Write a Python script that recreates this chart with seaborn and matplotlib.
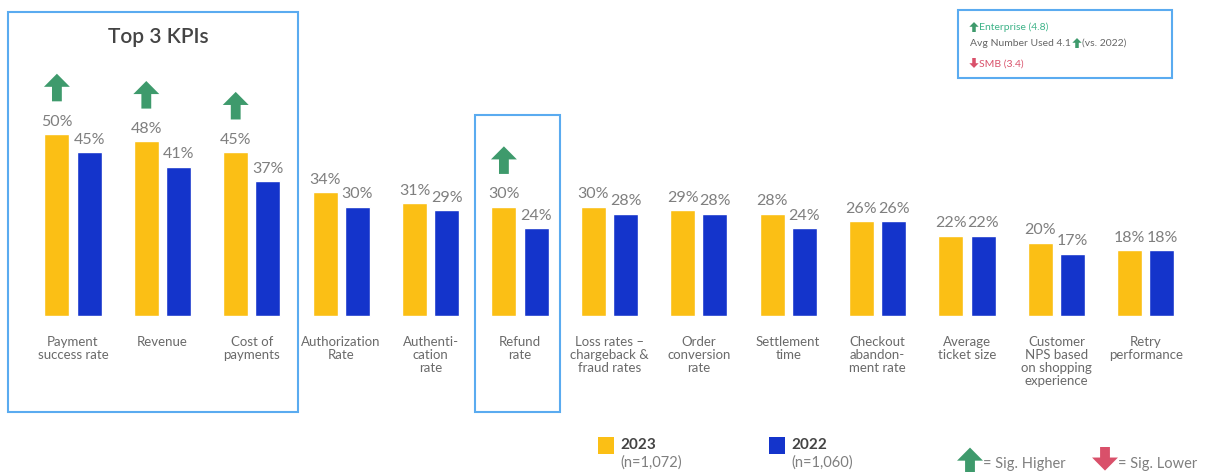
import matplotlib
matplotlib.use("Agg")
import matplotlib.pyplot as plt
from matplotlib.patches import Rectangle
import seaborn as sns
import pandas as pd

# data
categories = ["Payment\nsuccess rate", "Revenue", "Cost of\npayments",
              "Authorization\nRate", "Authenti-\ncation\nrate", "Refund\nrate",
              "Loss rates –\nchargeback &\nfraud rates", "Order\nconversion\nrate",
              "Settlement\ntime", "Checkout\nabandon-\nment rate",
              "Average\nticket size", "Customer\nNPS based\non shopping\nexperience",
              "Retry\nperformance"]
vals_2023 = [50, 48, 45, 34, 31, 30, 30, 29, 28, 26, 22, 20, 18]
vals_2022 = [45, 41, 37, 30, 29, 24, 28, 28, 24, 26, 22, 17, 18]
sig_higher = [0, 1, 2, 5]   # categories with green arrow on 2023
years = ["2023", "2022"]
year_n = ["(n=1,072)", "(n=1,060)"]

YELLOW = "#FBBF15"
BLUE = "#1434CB"
GREEN = "#3E9A6C"
RED = "#D9506A"
GREY = "#7f7f7f"
BOX = "#5AABF0"

sns.set_theme(style="white")
plt.rcParams["font.family"] = ["Lato", "DejaVu Sans"]

df = pd.DataFrame({
    "kpi": categories * 2,
    "year": ["2023"] * len(categories) + ["2022"] * len(categories),
    "value": vals_2023 + vals_2022,
})

fig = plt.figure(figsize=(12.15, 4.72), dpi=100)
ax = fig.add_axes([0, 0, 1, 1])

sns.barplot(data=df, x="kpi", y="value", hue="year", hue_order=years,
            palette=[YELLOW, BLUE], width=0.72, gap=0.22, legend=False,
            saturation=1, ax=ax)

# pixel mapping: category i centred at 73 + 89.4*i, baseline at y=315.5
sx = 89.4
sy = 3.63
ax.set_xlim(-73 / sx, (1215 - 73) / sx)
ax.set_ylim(-(472 - 315.5) / sy, 315.5 / sy)
ax.axis("off")


def px(x):
    return (x - 73) / sx


def py(y):
    return (315.5 - y) / sy


off = 0.18
for i, (a, b) in enumerate(zip(vals_2023, vals_2022)):
    ax.text(i - off, a + 1.5, f"{a}%", ha="center", va="bottom",
            fontsize=11.5, color=GREY)
    ax.text(i + off, b + 1.5, f"{b}%", ha="center", va="bottom",
            fontsize=11.5, color=GREY)
    ax.text(i, py(336), categories[i], ha="center", va="top", fontsize=9.5,
            color="#6a6a6a", linespacing=1.1)


def up_arrow(x, y0, h=7.6, color=GREEN, scale=1.0):
    ax.arrow(x, y0, 0, h * scale, width=0.11 * scale, head_width=0.29 * scale,
             head_length=3.6 * scale, length_includes_head=True,
             color=color, lw=0)


def down_arrow(x, y0, h=7.6, color=RED, scale=1.0):
    ax.arrow(x, y0, 0, -h * scale, width=0.11 * scale, head_width=0.29 * scale,
             head_length=3.6 * scale, length_includes_head=True,
             color=color, lw=0)


for i in sig_higher:
    up_arrow(i - off, vals_2023[i] + 9)

# highlight boxes
ax.add_patch(Rectangle((px(8), py(412)), px(298) - px(8), py(12) - py(412),
                       fill=False, ec=BOX, lw=1.5, clip_on=False))
ax.text(px(158), py(37), "Top 3 KPIs", ha="center", va="center",
        fontsize=15, fontweight="semibold", color="#444444")
ax.add_patch(Rectangle((px(475), py(412)), px(560) - px(475), py(115) - py(412),
                       fill=False, ec=BOX, lw=1.5))

# top-right note box
ax.add_patch(Rectangle((px(958), py(78)), px(1172) - px(958), py(10) - py(78),
                       fill=False, ec=BOX, lw=1.5))
up_arrow(px(974), py(32), scale=0.36)
ax.text(px(979), py(27), "Enterprise (4.8)", ha="left", va="center",
        fontsize=7.5, color="#3DB388")
ax.text(px(970), py(43), "Avg Number Used 4.1", ha="left", va="center",
        fontsize=7.5, color="#666666")
up_arrow(px(1077), py(48), scale=0.36)
ax.text(px(1082), py(43), "(vs. 2022)", ha="left", va="center",
        fontsize=7.5, color="#666666")
down_arrow(px(974), py(58), scale=0.36)
ax.text(px(979), py(64), "SMB (3.4)", ha="left", va="center",
        fontsize=7.5, color=RED)

# bottom legend
for j, (yr, n, col, x0) in enumerate(zip(years, year_n, [YELLOW, BLUE], [598, 769])):
    ax.add_patch(Rectangle((px(x0), py(454)), px(x0 + 16) - px(x0), py(437) - py(454),
                           color=col, lw=0))
    ax.text(px(x0 + 22), py(445), yr, ha="left", va="center",
            fontsize=11, fontweight="bold", color="#444444")
    ax.text(px(x0 + 22), py(463), n, ha="left", va="center",
            fontsize=10.5, color=GREY)

up_arrow(px(970), py(473), h=7.0)
ax.text(px(983), py(464), "= Sig. Higher", ha="left", va="center",
        fontsize=10.5, color=GREY)
down_arrow(px(1105), py(447), h=6.5)
ax.text(px(1118), py(464), "= Sig. Lower", ha="left", va="center",
        fontsize=10.5, color=GREY)

fig.savefig("out.png", dpi=100, facecolor="white")
